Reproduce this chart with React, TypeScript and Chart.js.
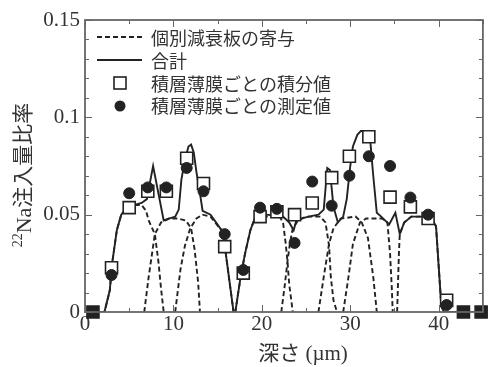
import React, { useEffect, useRef } from 'react';
import { Chart, registerables } from 'chart.js';

Chart.register(...registerables);

// ---- data ----
const layerDepth = [0.9, 3.0, 5.0, 7.1, 9.2, 11.5, 13.4, 15.8, 17.9, 19.8, 21.7, 23.7, 25.7, 27.9, 29.9, 32.1, 34.5, 36.8, 38.8, 40.9, 42.8, 44.8];
const integratedValues = [0, 0.0227, 0.0536, 0.062, 0.062, 0.079, 0.066, 0.0336, 0.020, 0.049, 0.0515, 0.050, 0.056, 0.069, 0.080, 0.090, 0.059, 0.054, 0.048, 0.006, 0, 0];
const measuredValues = [0, 0.019, 0.061, 0.064, 0.064, 0.074, 0.062, 0.040, 0.0216, 0.0536, 0.053, 0.0355, 0.067, 0.0546, 0.070, 0.080, 0.075, 0.0588, 0.050, 0.0036, 0, 0];

const totalX = [0, 2.2, 2.8, 3.1, 3.6, 4.1, 4.8, 5.6, 6.4, 7.0, 7.2, 7.7, 8.9, 9.5, 10.2, 10.6, 10.9, 11.3, 11.7, 12.0, 12.3, 12.6, 13.0, 13.3, 14.2, 15.6, 16.8,
  17.0, 17.6, 18.1, 18.7, 19.2, 19.8, 20.5, 22.4, 23.1, 23.6, 23.9, 24.4, 25.3, 26.4, 27.0, 27.4, 27.7, 28.1, 28.6, 29.2, 29.6, 30.0, 30.3, 30.8, 31.2, 32.1,
  32.3, 32.6, 33.0, 33.5, 34.4, 35.1, 35.6, 36.1, 36.9, 39.1, 39.7, 40.3, 40.6, 45];
const totalY = [0, 0, 0.011, 0.026, 0.042, 0.050, 0.054, 0.055, 0.056, 0.058, 0.063, 0.075, 0.047, 0.048, 0.049, 0.0526, 0.068, 0.078, 0.085, 0.086, 0.082, 0.072, 0.061, 0.052, 0.050, 0.041, 0,
  0, 0.018, 0.030, 0.042, 0.048, 0.050, 0.050, 0.049, 0.046, 0.042, 0.047, 0.048, 0.049, 0.050, 0.0526, 0.074, 0.073, 0.054, 0.046, 0.049, 0.058, 0.075, 0.085, 0.091, 0.093, 0.093,
  0.086, 0.070, 0.051, 0.049, 0.045, 0.051, 0.040, 0.046, 0.049, 0.049, 0.044, 0.003, 0, 0];

const plateAX = [0, 2.2, 2.8, 3.1, 3.6, 4.1, 4.8, 5.6, 6.4, 6.9, 7.2, 7.9, 8.3, 8.6, 8.9];
const plateAY = [0, 0, 0.011, 0.026, 0.042, 0.050, 0.054, 0.055, 0.055, 0.052, 0.047, 0.040, 0.026, 0.012, 0];
const plateBX = [6.7, 7.2, 7.9, 8.6, 9.5, 10.5, 11.4, 12.0, 12.4, 12.8, 13.0];
const plateBY = [0, 0.018, 0.040, 0.046, 0.048, 0.048, 0.047, 0.043, 0.032, 0.015, 0];
const plateCX = [10.2, 10.8, 11.3, 11.9, 12.6, 13.3, 14.2, 15.6, 16.8];
const plateCY = [0, 0.022, 0.034, 0.043, 0.048, 0.050, 0.049, 0.041, 0];
const plateDX = [17.0, 17.6, 18.1, 18.7, 19.2, 19.8, 22.0, 22.4, 22.7, 22.9, 23.1, 23.5];
const plateDY = [0, 0.018, 0.030, 0.042, 0.048, 0.049, 0.049, 0.046, 0.035, 0.026, 0.014, 0];
const plateEX = [22.2, 22.6, 22.9, 23.2, 23.5, 24.1, 25.0, 26.6, 27.2, 27.6, 27.8, 28.1, 28.5];
const plateEY = [0, 0.014, 0.026, 0.036, 0.043, 0.047, 0.049, 0.049, 0.046, 0.034, 0.018, 0.006, 0];
const plateFX = [26.4, 27.0, 27.6, 28.1, 28.9, 30.6, 31.3, 32.0, 32.6, 33.0];
const plateFY = [0, 0.018, 0.035, 0.043, 0.048, 0.049, 0.046, 0.038, 0.018, 0];
const plateGX = [29.2, 29.8, 30.3, 31.1, 31.8, 33.6, 34.2, 34.5, 34.7, 34.8];
const plateGY = [0, 0.018, 0.035, 0.046, 0.048, 0.048, 0.046, 0.030, 0.012, 0];
const plateHX = [35.3, 35.4, 35.5, 35.6, 36.1, 36.9, 39.1, 39.7, 40.3, 40.6];
const plateHY = [0, 0.015, 0.030, 0.040, 0.046, 0.049, 0.049, 0.044, 0.003, 0];

const legendLabels = ['個別減衰板の寄与', '合計', '積層薄膜ごとの積分値', '積層薄膜ごとの測定値'];
const xTitle = '深さ (µm)';
const yTitleSup = '22';
const yTitleMain = 'Na';
const yTitleCJK = '注入量比率';

const INK = '#222';
const TEXT = '#333';
const SERIF = "'Liberation Serif', 'Times New Roman', serif";
const CJK = "'Noto Sans CJK JP', sans-serif";
const DASH = [5, 3];

const pts = (xs: number[], ys: number[]) => xs.map((x, i) => ({ x, y: ys[i] }));

const framePlugin = {
  id: 'frameTicks',
  afterDatasetsDraw(chart: any) {
    const { ctx, chartArea: a, scales } = chart;
    const xs = scales.x, ys = scales.y;
    ctx.save();
    ctx.strokeStyle = '#666';
    ctx.lineWidth = 1;
    ctx.beginPath();
    for (let i = 0; i <= 9; i++) {
      const v = i * 5;
      const px = Math.round(xs.getPixelForValue(v)) + 0.5;
      const len = v % 10 === 0 ? 7 : 4;
      ctx.moveTo(px, a.bottom); ctx.lineTo(px, a.bottom - len);
      ctx.moveTo(px, a.top); ctx.lineTo(px, a.top + len);
    }
    for (let i = 0; i <= 15; i++) {
      const py = Math.round(ys.getPixelForValue(i / 100)) + 0.5;
      const len = i % 5 === 0 ? 7 : 4;
      ctx.moveTo(a.left, py); ctx.lineTo(a.left + len, py);
      ctx.moveTo(a.right, py); ctx.lineTo(a.right - len, py);
    }
    ctx.stroke();
    ctx.lineWidth = 1.8;
    ctx.strokeRect(a.left, a.top, a.right - a.left, a.bottom - a.top);
    ctx.restore();
  },
  afterDraw(chart: any) {
    const { ctx } = chart;
    ctx.save();
    // legend
    const rows = [37, 60, 83, 105];
    ctx.strokeStyle = INK;
    ctx.lineWidth = 1.9;
    ctx.setLineDash(DASH);
    ctx.beginPath(); ctx.moveTo(97, rows[0]); ctx.lineTo(142, rows[0]); ctx.stroke();
    ctx.setLineDash([]);
    ctx.beginPath(); ctx.moveTo(97, rows[1]); ctx.lineTo(142, rows[1]); ctx.stroke();
    ctx.fillStyle = '#fff';
    ctx.lineWidth = 1.6;
    ctx.fillRect(114, rows[2] - 6, 12, 12);
    ctx.strokeRect(114, rows[2] - 6, 12, 12);
    ctx.fillStyle = INK;
    ctx.beginPath(); ctx.arc(120, rows[3] + 1, 5.5, 0, Math.PI * 2); ctx.fill();
    ctx.fillStyle = TEXT;
    ctx.font = `18px ${CJK}`;
    ctx.textBaseline = 'middle';
    ctx.textAlign = 'left';
    legendLabels.forEach((t, i) => ctx.fillText(t, 151, rows[i] + 1));

    // x title
    ctx.font = `21px ${SERIF}, ${CJK}`;
    ctx.textAlign = 'center';
    ctx.fillText(xTitle, 303, 354);

    // y title (rotated, with superscript)
    ctx.translate(21, 175);
    ctx.rotate(-Math.PI / 2);
    ctx.textAlign = 'left';
    ctx.textBaseline = 'alphabetic';
    const supFont = `14px ${SERIF}`;
    const mainFont = `22px ${SERIF}`;
    const cjkFont = `21px ${CJK}`;
    ctx.font = supFont; const w1 = ctx.measureText(yTitleSup).width;
    ctx.font = mainFont; const w2 = ctx.measureText(yTitleMain).width;
    ctx.font = cjkFont; const w3 = ctx.measureText(yTitleCJK).width;
    let sx = -(w1 + w2 + w3) / 2;
    ctx.font = supFont; ctx.fillText(yTitleSup, sx, 1); sx += w1;
    ctx.font = mainFont; ctx.fillText(yTitleMain, sx, 10); sx += w2;
    ctx.font = cjkFont; ctx.fillText(yTitleCJK, sx, 9);
    ctx.restore();
  },
};

export default function App() {
  const ref = useRef<HTMLCanvasElement>(null);
  useEffect(() => {
    if (!ref.current) return;
    const dashed = (xs: number[], ys: number[]) => ({
      type: 'line' as const,
      data: pts(xs, ys),
      borderColor: INK,
      borderWidth: 1.9,
      borderDash: DASH,
      pointRadius: 0,
      fill: false,
      order: 4,
    });
    const chart = new Chart(ref.current, {
      type: 'line',
      data: {
        datasets: [
          {
            type: 'scatter',
            data: pts(layerDepth, measuredValues),
            pointStyle: 'circle',
            pointRadius: 5.5,
            backgroundColor: INK,
            borderColor: INK,
            borderWidth: 1,
            showLine: false,
            clip: false,
            order: 0,
          } as any,
          {
            type: 'scatter',
            data: pts(layerDepth, integratedValues),
            pointStyle: 'rect',
            pointRadius: 8.5,
            backgroundColor: (c: any) => (c.raw && c.raw.y === 0 ? INK : '#fff'),
            borderColor: INK,
            borderWidth: 1.6,
            showLine: false,
            clip: false,
            order: 1,
          } as any,
          {
            type: 'line',
            data: pts(totalX, totalY),
            borderColor: INK,
            borderWidth: 1.9,
            pointRadius: 0,
            fill: false,
            order: 2,
          } as any,
          dashed(plateAX, plateAY),
          dashed(plateBX, plateBY),
          dashed(plateCX, plateCY),
          dashed(plateDX, plateDY),
          dashed(plateEX, plateEY),
          dashed(plateFX, plateFY),
          dashed(plateGX, plateGY),
          dashed(plateHX, plateHY),
        ] as any,
      },
      options: {
        responsive: false,
        animation: false,
        layout: { padding: { top: 20, right: 3, left: 0, bottom: 0 } },
        plugins: { legend: { display: false }, tooltip: { enabled: false }, title: { display: false } },
        scales: {
          x: {
            type: 'linear',
            min: 0,
            max: 45,
            grid: { display: false, drawTicks: false },
            border: { display: false },
            ticks: {
              stepSize: 10,
              padding: 0,
              maxRotation: 0,
              autoSkip: false,
              color: TEXT,
              font: { family: SERIF, size: 21 },
              callback: (v: any) => (Number(v) % 10 === 0 ? String(v) : ''),
            },
            afterFit: (s: any) => { s.height = 55; },
          },
          y: {
            type: 'linear',
            min: 0,
            max: 0.15,
            grid: { display: false, drawTicks: false },
            border: { display: false },
            ticks: {
              stepSize: 0.05,
              padding: 5,
              autoSkip: false,
              color: TEXT,
              font: { family: SERIF, size: 21 },
              callback: (v: any) => {
                const r = Math.round(Number(v) * 100) / 100;
                return r === 0 ? '0' : String(r);
              },
            },
            afterFit: (s: any) => { s.width = 85; },
          },
        },
      } as any,
      plugins: [framePlugin],
    });
    return () => chart.destroy();
  }, []);
  return (
    <div style={{ position: 'absolute', left: 0, top: 0, width: 493, height: 367, background: '#fff' }}>
      <canvas ref={ref} width={493} height={367} style={{ display: 'block' }} />
    </div>
  );
}
